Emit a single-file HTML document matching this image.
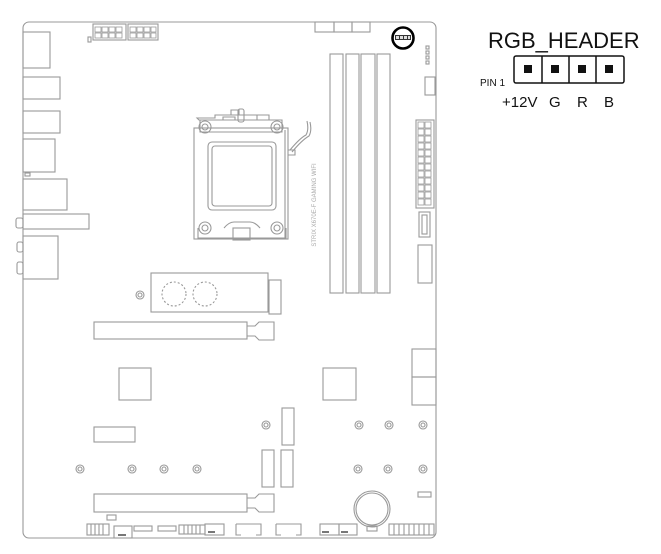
<!DOCTYPE html>
<html><head><style>html,body{margin:0;padding:0;background:#fff;width:661px;height:554px;overflow:hidden}</style></head>
<body>
<svg width="661" height="554" viewBox="0 0 661 554" xmlns="http://www.w3.org/2000/svg" font-family="Liberation Sans, sans-serif">
<g fill="none" stroke="#999" stroke-width="1.1">
<rect x="23" y="22" width="413" height="516" rx="6"/>
<rect x="23" y="32" width="27" height="36"/>
<rect x="23" y="77" width="37" height="22"/>
<rect x="23" y="111" width="37" height="22"/>
<rect x="23" y="139" width="32" height="33"/>
<rect x="25" y="173" width="5" height="3"/>
<rect x="23" y="179" width="44" height="31"/>
<rect x="23" y="214" width="66" height="15"/>
<rect x="16" y="218" width="7" height="10" rx="2"/>
<rect x="23" y="236" width="35" height="43"/>
<rect x="17" y="242" width="6" height="10" rx="2"/>
<rect x="17" y="262" width="6" height="12" rx="2"/>
<rect x="93" y="24" width="33" height="16"/>
<rect x="128" y="24" width="30" height="16"/>
<g stroke-width="0.8">
<rect x="95" y="27" width="6" height="5"/><rect x="102" y="27" width="6" height="5"/><rect x="109" y="27" width="6" height="5"/><rect x="116" y="27" width="6" height="5"/>
<rect x="95" y="33" width="6" height="5"/><rect x="102" y="33" width="6" height="5"/><rect x="109" y="33" width="6" height="5"/><rect x="116" y="33" width="6" height="5"/>
<rect x="130" y="27" width="6" height="5"/><rect x="137" y="27" width="6" height="5"/><rect x="144" y="27" width="6" height="5"/><rect x="151" y="27" width="5" height="5"/>
<rect x="130" y="33" width="6" height="5"/><rect x="137" y="33" width="6" height="5"/><rect x="144" y="33" width="6" height="5"/><rect x="151" y="33" width="5" height="5"/>
</g>
<rect x="88" y="37" width="3" height="5"/>
<rect x="194" y="128" width="94" height="111"/>
<path d="M197 118 h18 v-3 h16 v-5 h8 v5 h18 v5 h-22 v-3 h-12 v3 h-24 z"/>
<path d="M200 120 h82 v12 h-82 z"/>
<path d="M215 115 h54 v5"/>
<rect x="238" y="109" width="6" height="13" rx="2"/>
<rect x="208" y="142" width="68" height="68" rx="4"/>
<rect x="212" y="146" width="60" height="60" rx="3"/>
<path d="M198 228 v10 h88 v-10"/>
<rect x="233" y="228" width="17" height="12"/>
<path d="M224 228 q5 -6 10 -6 h16 q5 0 10 6"/>
<circle cx="205" cy="127" r="6"/><circle cx="205" cy="127" r="3"/>
<circle cx="277" cy="127" r="6"/><circle cx="277" cy="127" r="3"/>
<circle cx="205" cy="228" r="6"/><circle cx="205" cy="228" r="3"/>
<circle cx="277" cy="228" r="6"/><circle cx="277" cy="228" r="3"/>
<path d="M285 130 v108 M288 150 h7 v5 h-7"/>
<path d="M290 150 q10 -12 16 -15 q3 -5 1 -14"/>
<path d="M292 152 q10 -12 17 -16 q3 -5 1 -14"/>
<rect x="315" y="22" width="19" height="10"/><rect x="334" y="22" width="18" height="10"/><rect x="352" y="22" width="18" height="10"/>
<rect x="426" y="46" width="3" height="3"/><rect x="426" y="51" width="3" height="3"/><rect x="426" y="56" width="3" height="3"/><rect x="426" y="61" width="3" height="3"/>
<rect x="425" y="77" width="10" height="18"/>
<rect x="330" y="54" width="13" height="239"/>
<rect x="346" y="54" width="13" height="239"/>
<rect x="361" y="54" width="14" height="239"/>
<rect x="377" y="54" width="13" height="239"/>
<rect x="416" y="120" width="18" height="88"/>
<g stroke-width="0.8">
<rect x="418" y="122" width="6" height="6"/><rect x="425" y="122" width="6" height="6"/>
<rect x="418" y="129" width="6" height="6"/><rect x="425" y="129" width="6" height="6"/>
<rect x="418" y="136" width="6" height="6"/><rect x="425" y="136" width="6" height="6"/>
<rect x="418" y="143" width="6" height="6"/><rect x="425" y="143" width="6" height="6"/>
<rect x="418" y="150" width="6" height="6"/><rect x="425" y="150" width="6" height="6"/>
<rect x="418" y="157" width="6" height="6"/><rect x="425" y="157" width="6" height="6"/>
<rect x="418" y="164" width="6" height="6"/><rect x="425" y="164" width="6" height="6"/>
<rect x="418" y="171" width="6" height="6"/><rect x="425" y="171" width="6" height="6"/>
<rect x="418" y="178" width="6" height="6"/><rect x="425" y="178" width="6" height="6"/>
<rect x="418" y="185" width="6" height="6"/><rect x="425" y="185" width="6" height="6"/>
<rect x="418" y="192" width="6" height="6"/><rect x="425" y="192" width="6" height="6"/>
<rect x="418" y="199" width="6" height="6"/><rect x="425" y="199" width="6" height="6"/>
</g>
<rect x="419" y="212" width="11" height="25"/><rect x="422" y="215" width="5" height="19"/>
<rect x="418" y="245" width="14" height="38"/>
<rect x="151" y="273" width="117" height="39"/>
<circle cx="174" cy="294" r="12" stroke-dasharray="2 2"/>
<circle cx="205" cy="294" r="12" stroke-dasharray="2 2"/>
<circle cx="140" cy="295" r="4"/><circle cx="140" cy="295" r="2"/>
<rect x="269" y="280" width="12" height="34"/>
<rect x="94" y="322" width="153" height="17"/>
<path d="M247 326 h8 l4 -4 h15 v18 h-15 l-4 -4 h-8"/>
<rect x="119" y="368" width="32" height="32"/>
<rect x="323" y="368" width="33" height="32"/>
<rect x="412" y="349" width="24" height="28"/>
<rect x="412" y="377" width="24" height="28"/>
<g>
<circle cx="266" cy="425" r="4"/><circle cx="266" cy="425" r="2"/>
<circle cx="359" cy="425" r="4"/><circle cx="359" cy="425" r="2"/>
<circle cx="389" cy="425" r="4"/><circle cx="389" cy="425" r="2"/>
<circle cx="423" cy="425" r="4"/><circle cx="423" cy="425" r="2"/>
<circle cx="80" cy="469" r="4"/><circle cx="80" cy="469" r="2"/>
<circle cx="132" cy="469" r="4"/><circle cx="132" cy="469" r="2"/>
<circle cx="164" cy="469" r="4"/><circle cx="164" cy="469" r="2"/>
<circle cx="197" cy="469" r="4"/><circle cx="197" cy="469" r="2"/>
<circle cx="358" cy="469" r="4"/><circle cx="358" cy="469" r="2"/>
<circle cx="388" cy="469" r="4"/><circle cx="388" cy="469" r="2"/>
<circle cx="423" cy="469" r="4"/><circle cx="423" cy="469" r="2"/>
</g>
<rect x="282" y="408" width="12" height="37"/>
<rect x="94" y="427" width="41" height="15"/>
<rect x="262" y="450" width="12" height="37"/>
<rect x="281" y="450" width="12" height="37"/>
<rect x="94" y="494" width="153" height="18"/>
<path d="M247 498 h8 l4 -4 h15 v18 h-15 l-4 -4 h-8"/>
<rect x="418" y="492" width="13" height="5"/>
<circle cx="372" cy="509" r="18"/><circle cx="372" cy="509" r="16"/>
<rect x="367" y="526" width="10" height="5"/>
<rect x="107" y="515" width="9" height="5"/>
<rect x="87" y="524" width="22" height="11"/>
<path d="M91 524v11M95 524v11M99 524v11M103 524v11"/>
<rect x="114" y="526" width="18" height="12"/>
<rect x="134" y="526" width="18" height="5"/>
<rect x="158" y="526" width="18" height="5"/>
<rect x="179" y="525" width="26" height="9"/>
<path d="M184 525v9M188 525v9M192 525v9M196 525v9M200 525v9"/>
<rect x="205" y="524" width="19" height="11"/>
<path d="M236 524 h25 v11 h-5 M241 535 h-5 v-11"/>
<path d="M276 524 h25 v11 h-5 M281 535 h-5 v-11"/>
<rect x="320" y="524" width="19" height="11"/>
<rect x="339" y="524" width="18" height="11"/>
<rect x="389" y="524" width="45" height="11"/>
<path d="M394 524v11M399 524v11M404 524v11M409 524v11M414 524v11M419 524v11M424 524v11M429 524v11"/>
</g>
<g fill="#777">
<rect x="118" y="534" width="8" height="2"/><rect x="208" y="531" width="7" height="2"/>
<rect x="322" y="531" width="7" height="2"/><rect x="341" y="531" width="7" height="2"/>
</g>
<text x="316" y="205" font-size="6" fill="#aaa" text-anchor="middle" transform="rotate(-90 316 205)">STRIX X670E-F GAMING WIFI</text>
<circle cx="403" cy="38" r="10.5" fill="#fff" stroke="#000" stroke-width="2.6"/>
<rect x="395" y="35" width="16" height="5" fill="#333"/>
<g fill="#ddd"><rect x="396" y="36" width="3" height="3"/><rect x="400" y="36" width="3" height="3"/><rect x="404" y="36" width="3" height="3"/><rect x="408" y="36" width="2" height="3"/></g>
<text x="488" y="48" font-size="22" fill="#111">RGB_HEADER</text>
<g fill="none" stroke="#111" stroke-width="1.5">
<rect x="514" y="56" width="110" height="27" rx="2"/>
<path d="M542 56v27M569 56v27M596 56v27"/>
</g>
<g fill="#111">
<rect x="524" y="65" width="8" height="8"/><rect x="551" y="65" width="8" height="8"/><rect x="578" y="65" width="8" height="8"/><rect x="605" y="65" width="8" height="8"/>
</g>
<text x="480" y="86" font-size="10" fill="#111">PIN 1</text>
<text x="502" y="107" font-size="15" fill="#111">+12V</text>
<text x="549" y="107" font-size="15" fill="#111">G</text>
<text x="577" y="107" font-size="15" fill="#111">R</text>
<text x="604" y="107" font-size="15" fill="#111">B</text>
</svg>
</body></html>
